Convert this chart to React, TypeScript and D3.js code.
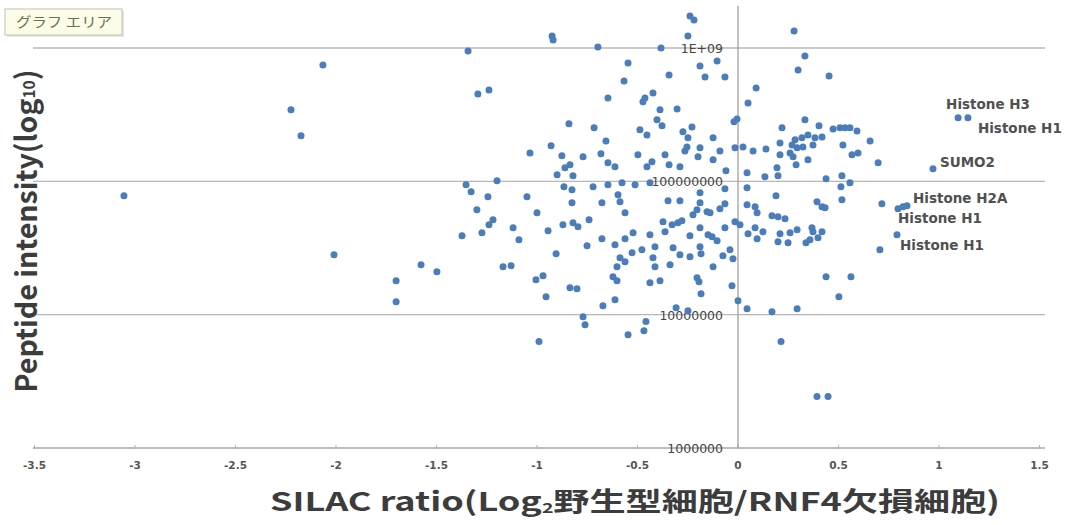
import React from 'react';
import * as d3 from 'd3';

const WIDTH = 1068;
const HEIGHT = 525;

const xTicks = [-3.5, -3, -2.5, -2, -1.5, -1, -0.5, 0, 0.5, 1, 1.5];
const yTicks = [1e6, 1e7, 1e8, 1e9];
const yTickLabels = ['1000000', '10000000', '100000000', '1E+09'];

// [SILAC ratio (log2), peptide intensity (log10)]
const peptides: [number, number][] = [
  [-3.055, 7.891], [-2.224, 8.536], [-2.174, 8.341], [-2.065, 8.873], [-2.01, 7.449],
  [-1.701, 7.255], [-1.701, 7.097], [-1.577, 7.375], [-1.498, 7.322], [-1.373, 7.592],
  [-1.353, 7.974], [-1.343, 8.978], [-1.328, 7.921], [-1.299, 7.787], [-1.294, 8.655],
  [-1.274, 7.614], [-1.244, 7.884], [-1.239, 8.685], [-1.239, 7.674], [-1.219, 7.712],
  [-1.199, 8.004], [-1.169, 7.36], [-1.129, 7.367], [-1.119, 7.652], [-1.09, 7.562],
  [-1.05, 7.884], [-1.035, 8.213], [-1.005, 7.262], [-1.0, 7.764], [-0.99, 6.798],
  [-0.97, 7.292], [-0.955, 7.135], [-0.945, 7.629], [-0.93, 8.266], [-0.925, 9.09],
  [-0.92, 9.06], [-0.905, 7.457], [-0.9, 8.049], [-0.876, 8.191], [-0.871, 7.674],
  [-0.866, 7.959], [-0.861, 8.101], [-0.841, 8.431], [-0.836, 8.124], [-0.836, 7.202],
  [-0.826, 7.936], [-0.826, 7.839], [-0.821, 8.041], [-0.821, 7.689], [-0.801, 7.195],
  [-0.796, 7.659], [-0.771, 8.184], [-0.771, 6.985], [-0.761, 6.925], [-0.751, 7.517],
  [-0.741, 7.712], [-0.721, 7.959], [-0.716, 8.401], [-0.697, 9.007], [-0.682, 8.206],
  [-0.677, 7.839], [-0.677, 7.569], [-0.672, 7.067], [-0.657, 8.303], [-0.647, 8.625],
  [-0.647, 8.139], [-0.647, 7.974], [-0.622, 7.285], [-0.612, 8.109], [-0.612, 7.524],
  [-0.612, 7.112], [-0.602, 7.36], [-0.602, 7.255], [-0.597, 7.899], [-0.587, 7.846],
  [-0.587, 7.427], [-0.577, 7.989], [-0.567, 8.753], [-0.562, 7.764], [-0.562, 7.569],
  [-0.562, 7.397], [-0.547, 8.888], [-0.547, 6.85], [-0.527, 7.464], [-0.522, 7.614],
  [-0.512, 7.974], [-0.498, 8.199], [-0.488, 8.386], [-0.478, 7.487], [-0.473, 8.596],
  [-0.468, 6.88], [-0.463, 8.625], [-0.458, 6.948], [-0.453, 8.348], [-0.453, 8.109],
  [-0.438, 7.989], [-0.438, 7.599], [-0.438, 7.24], [-0.428, 8.146], [-0.423, 8.663],
  [-0.423, 7.427], [-0.413, 7.509], [-0.413, 7.36], [-0.403, 8.461], [-0.388, 8.536],
  [-0.388, 7.255], [-0.383, 9.0], [-0.378, 8.416], [-0.373, 7.697], [-0.363, 8.199],
  [-0.363, 7.622], [-0.348, 7.854], [-0.343, 8.798], [-0.343, 8.124], [-0.338, 7.375],
  [-0.328, 7.674], [-0.323, 7.502], [-0.308, 7.052], [-0.303, 8.543], [-0.299, 7.689],
  [-0.289, 8.109], [-0.289, 7.854], [-0.289, 7.449], [-0.279, 7.704], [-0.274, 8.371],
  [-0.264, 8.228], [-0.254, 8.258], [-0.249, 9.09], [-0.249, 8.326], [-0.249, 7.03],
  [-0.239, 9.24], [-0.239, 7.592], [-0.239, 7.434], [-0.229, 8.408], [-0.224, 7.749],
  [-0.219, 9.21], [-0.204, 7.787], [-0.204, 7.277], [-0.199, 8.184], [-0.194, 7.247],
  [-0.189, 8.865], [-0.189, 8.251], [-0.189, 7.914], [-0.189, 7.839], [-0.189, 7.652],
  [-0.189, 7.509], [-0.184, 7.457], [-0.184, 7.157], [-0.164, 8.783], [-0.154, 7.772],
  [-0.149, 7.599], [-0.139, 7.764], [-0.129, 7.584], [-0.124, 8.326], [-0.124, 8.161],
  [-0.124, 7.36], [-0.104, 8.903], [-0.104, 7.554], [-0.09, 8.228], [-0.09, 7.794],
  [-0.075, 7.442], [-0.065, 8.783], [-0.065, 7.944], [-0.065, 7.831], [-0.065, 7.652],
  [-0.06, 8.079], [-0.04, 7.487], [-0.03, 7.217], [-0.025, 7.419], [-0.02, 8.446],
  [-0.015, 8.251], [-0.015, 7.697], [-0.005, 8.468], [0.0, 7.105], [0.01, 7.674],
  [0.025, 8.258], [0.045, 8.064], [0.045, 7.951], [0.045, 7.824], [0.045, 7.045],
  [0.05, 8.588], [0.05, 7.607], [0.075, 8.228], [0.085, 7.809], [0.085, 7.652],
  [0.09, 8.7], [0.095, 7.764], [0.095, 7.569], [0.124, 7.622], [0.134, 8.034],
  [0.139, 8.243], [0.169, 7.742], [0.169, 7.022], [0.189, 7.891], [0.194, 8.101],
  [0.199, 8.041], [0.199, 7.734], [0.199, 7.547], [0.209, 8.288], [0.209, 8.199],
  [0.209, 7.607], [0.214, 6.798], [0.219, 8.401], [0.234, 7.719], [0.249, 7.539],
  [0.259, 8.213], [0.259, 7.614], [0.269, 8.273], [0.294, 8.251], [0.274, 8.184],
  [0.279, 9.127], [0.284, 8.311], [0.289, 8.124], [0.294, 7.637], [0.294, 7.045],
  [0.299, 8.835], [0.318, 8.326], [0.323, 8.258], [0.333, 8.94], [0.333, 8.461],
  [0.338, 7.539], [0.348, 8.348], [0.348, 8.161], [0.358, 7.562], [0.368, 7.652],
  [0.373, 8.273], [0.373, 7.622], [0.383, 8.326], [0.393, 7.846], [0.393, 6.386],
  [0.398, 7.577], [0.403, 8.416], [0.418, 8.333], [0.418, 7.809], [0.418, 7.622],
  [0.433, 7.801], [0.438, 8.019], [0.438, 7.285], [0.448, 6.386], [0.453, 8.79],
  [0.473, 8.393], [0.502, 7.135], [0.507, 8.401], [0.512, 7.959], [0.517, 8.041],
  [0.517, 7.861], [0.522, 8.273], [0.532, 8.401], [0.557, 8.401], [0.557, 7.989],
  [0.562, 7.285], [0.567, 8.199], [0.592, 8.378], [0.597, 8.213], [0.657, 8.303],
  [0.697, 8.139], [0.706, 7.487], [0.716, 7.831], [0.821, 7.809],
];

// named proteins, label offset in px from the dot
const proteins = [
  { name: 'Histone H1', ratio: 0.791, intensity: 7.599, dx: 3, dy: 15 },
  { name: 'Histone H1', ratio: 0.796, intensity: 7.794, dx: 0, dy: 14 },
  { name: 'Histone H2A', ratio: 0.841, intensity: 7.816, dx: 6, dy: -3 },
  { name: 'SUMO2', ratio: 0.97, intensity: 8.094, dx: 7, dy: -2 },
  { name: 'Histone H3', ratio: 1.095, intensity: 8.476, dx: -12, dy: -9 },
  { name: 'Histone H1', ratio: 1.144, intensity: 8.476, dx: 10, dy: 15 },
];

const DOT = '#4a7dba';

const App = () => {
  const x = d3.scaleLinear().domain([-3.5, 1.5]).range([34.5, 1039.5]);
  const y = d3.scaleLog().domain([1e6, 1e9]).range([448, 48]);
  const x0 = x(0);
  const left = 33;
  const right = 1045;

  return (
    <svg
      width={WIDTH}
      height={HEIGHT}
      style={{ position: 'absolute', left: 0, top: 0, background: '#fff' }}
    >
      {/* gridlines */}
      {yTicks.slice(1).map((t) => (
        <line key={t} x1={left} x2={right} y1={y(t)} y2={y(t)} stroke="#b8b8b8" strokeWidth={1.3} />
      ))}
      {/* x axis */}
      <line x1={left} x2={right} y1={y(1e6)} y2={y(1e6)} stroke="#a8a8a8" strokeWidth={1.3} />
      {xTicks.map((t) => (
        <line key={t} x1={x(t)} x2={x(t)} y1={y(1e6) - 3} y2={y(1e6) + 1} stroke="#b0b0b0" />
      ))}
      {/* y axis at x = 0 */}
      <line x1={x0} x2={x0} y1={6} y2={y(1e6)} stroke="#a0a0a0" strokeWidth={1.3} />

      {/* y tick labels */}
      {yTicks.map((t, i) => (
        <text
          key={t}
          x={x0 - 15}
          y={y(t) + 5}
          textAnchor="end"
          fontFamily="DejaVu Sans"
          fontSize={12.5}
          fill="#444"
        >
          {yTickLabels[i]}
        </text>
      ))}

      {/* x tick labels */}
      {xTicks.map((t) => (
        <text
          key={t}
          x={x(t)}
          y={469}
          textAnchor="middle"
          fontFamily="DejaVu Sans"
          fontWeight="bold"
          fontSize={10.5}
          fill="#555"
        >
          {String(t)}
        </text>
      ))}

      {/* points */}
      {peptides.map((d, i) => (
        <circle key={i} cx={x(d[0])} cy={y(Math.pow(10, d[1]))} r={3.5} fill={DOT} />
      ))}
      {proteins.map((p, i) => (
        <circle key={'p' + i} cx={x(p.ratio)} cy={y(Math.pow(10, p.intensity))} r={3.5} fill={DOT} />
      ))}
      {proteins.map((p, i) => (
        <text
          key={'l' + i}
          x={x(p.ratio) + p.dx}
          y={y(Math.pow(10, p.intensity)) + p.dy}
          fontFamily="DejaVu Sans"
          fontWeight="bold"
          fontSize={13.5}
          fill="#505050"
        >
          {p.name}
        </text>
      ))}

      {/* axis titles */}
      <text
        transform="translate(37,231) scale(1.12,1) rotate(-90)"
        textAnchor="middle"
        fontFamily="Noto Sans CJK JP"
        fontWeight="bold"
        fontSize={26}
        fill="#3c3c3c"
        textLength={323}
        lengthAdjust="spacingAndGlyphs"
      >
        Peptide intensity(log
        <tspan fontSize={14} dy={-2}>10</tspan>
        <tspan dy={2}>)</tspan>
      </text>
      <text
        x={270}
        y={511}
        fontFamily="Noto Sans CJK JP"
        fontWeight="bold"
        fontSize={26}
        fill="#3c3c3c"
        textLength={730}
        lengthAdjust="spacingAndGlyphs"
      >
        SILAC ratio(Log
        <tspan fontSize={14} dy={2}>2</tspan>
        <tspan dy={-2}>野生型細胞/RNF4欠損細胞)</tspan>
      </text>

      {/* chart-area tooltip */}
      <rect x={7} y={11} width={117} height={26} fill="#d8d8d8" opacity={0.7} />
      <rect x={5} y={9} width={117} height={26} fill="#fcfce8" stroke="#c4c4aa" />
      <text
        x={16}
        y={27}
        fontFamily="Noto Sans CJK JP"
        fontSize={13.5}
        fill="#66754f"
        textLength={96}
        lengthAdjust="spacingAndGlyphs"
      >
        グラフ エリア
      </text>
    </svg>
  );
};

export default App;
